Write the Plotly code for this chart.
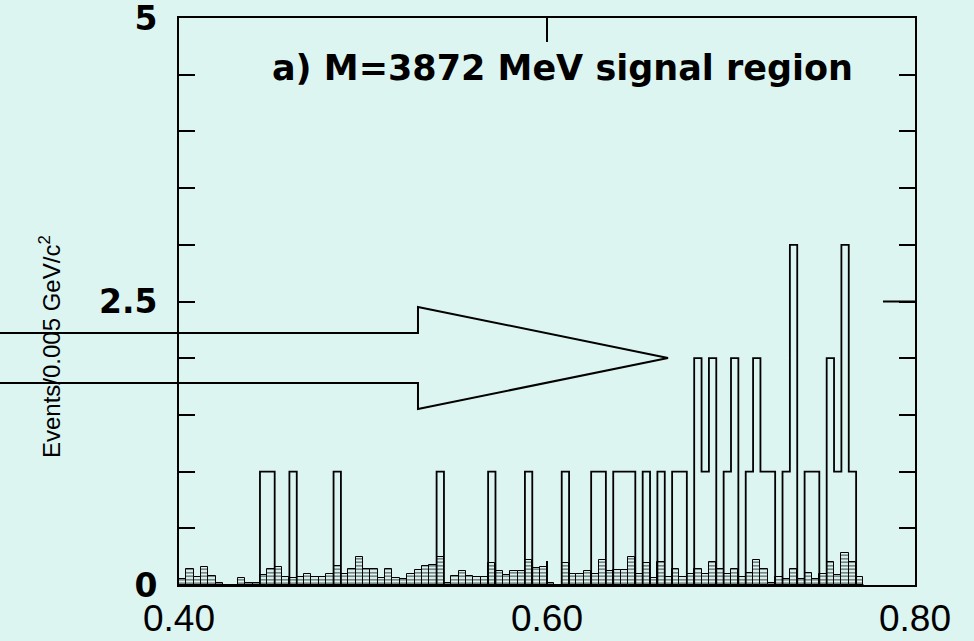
import numpy as np
import plotly.graph_objects as go

# ---- data ----
bin_start = 0.400
bin_width = 0.004

signal_counts = [
    0, 0, 0, 0, 0, 0, 0, 0, 0, 0,
    0, 1, 1, 0, 0, 1, 0, 0, 0, 0,
    0, 1, 0, 0, 0, 0, 0, 0, 0, 0,
    0, 0, 0, 0, 0, 1, 0, 0, 0, 0,
    0, 0, 1, 0, 0, 0, 0, 1, 0, 0,
    0, 0, 1, 0, 0, 0, 1, 1, 0, 1,
    1, 1, 0, 1, 0, 1, 0, 1, 1, 0,
    2, 1, 2, 0, 1, 2, 0, 1, 2, 1,
    1, 0, 1, 3, 0, 1, 1, 0, 2, 1,
    3, 1, 0,
]

background_counts = [
    0.05, 0.14, 0.07, 0.16, 0.08, 0.02, 0.00, 0.00, 0.06, 0.015,
    0.015, 0.09, 0.14, 0.16, 0.07, 0.06, 0.07, 0.10, 0.07, 0.07,
    0.10, 0.17, 0.10, 0.14, 0.25, 0.14, 0.14, 0.06, 0.14, 0.06,
    0.05, 0.10, 0.13, 0.17, 0.18, 0.25, 0.02, 0.08, 0.12, 0.08,
    0.07, 0.07, 0.19, 0.12, 0.09, 0.12, 0.12, 0.22, 0.15, 0.16,
    0.02, 0.00, 0.19, 0.10, 0.10, 0.12, 0.10, 0.22, 0.12, 0.13,
    0.13, 0.25, 0.10, 0.19, 0.06, 0.20, 0.07, 0.14, 0.07, 0.10,
    0.14, 0.10, 0.20, 0.14, 0.10, 0.14, 0.07, 0.11, 0.22, 0.14,
    0.02, 0.07, 0.05, 0.14, 0.05, 0.11, 0.05, 0.10, 0.20, 0.09,
    0.28, 0.20, 0.07,
]

x_tick_vals = [0.40, 0.60, 0.80]
x_tick_text = ["0.40", "0.60", "0.80"]
y_tick_vals = [0, 2.5, 5]
y_tick_text = ["0", "2.5", "5"]
y_minor_step = 0.5

title_text = "a) M=3872 MeV signal region"
y_title = "Events/0.005 GeV/c<sup>2</sup>"

# ---- derived ----
n = len(signal_counts)
edges = np.round(bin_start + bin_width * np.arange(n + 1), 4)
centers = edges[:-1] + bin_width / 2

BG = "#dcf5f0"

fig = go.Figure()

# hatched background histogram
fig.add_trace(go.Bar(
    x=centers, y=background_counts, width=bin_width,
    marker=dict(color=BG,
                line=dict(color="black", width=1),
                pattern=dict(shape="-", fgcolor="black", bgcolor=BG,
                             size=3.5, solidity=0.45)),
    showlegend=False, hoverinfo="skip",
))

# signal-region step histogram
step_x = list(edges[:-1]) + [edges[-1]]
step_y = list(signal_counts) + [0]
fig.add_trace(go.Scatter(
    x=step_x, y=step_y, mode="lines", line=dict(color="black", width=1.8, shape="hv"),
    showlegend=False, hoverinfo="skip",
))

# big hollow arrow (paper coordinates, extends beyond left edge)
arrow_path = ("M -0.2432,0.4444 L 0.3247,0.4444 L 0.3247,0.4903 L 0.6644,0.4004 "
              "L 0.3247,0.3104 L 0.3247,0.3563 L -0.2432,0.3563")
fig.add_shape(type="path", path=arrow_path, xref="paper", yref="paper",
              line=dict(color="black", width=2), fillcolor="rgba(0,0,0,0)", layer="above")

# long right-side tick at 2.5
fig.add_shape(type="line", xref="paper", yref="y", x0=0.9565, x1=1.0, y0=2.5, y1=2.5,
              line=dict(color="black", width=2))

fig.add_annotation(text=title_text, xref="paper", yref="paper", x=0.5217, y=0.912,
                   showarrow=False, xanchor="center", yanchor="middle",
                   font=dict(family="DejaVu Sans", size=35, color="black", weight="bold"))

fig.add_annotation(text=y_title, xref="paper", yref="paper", x=-0.175, y=0.42,
                   showarrow=False, xanchor="center", yanchor="middle", textangle=-90,
                   font=dict(family="Liberation Sans", size=24, color="black"))

fig.update_layout(
    width=974, height=641,
    margin=dict(l=179, r=59, t=18, b=56, autoexpand=False),
    paper_bgcolor=BG, plot_bgcolor=BG,
    bargap=0, barmode="overlay",
    xaxis=dict(range=[0.40, 0.80], tickvals=x_tick_vals, ticktext=x_tick_text,
               ticks="inside", ticklen=24, tickwidth=2, tickcolor="black",
               showline=True, linecolor="black", linewidth=2, mirror="ticks",
               showgrid=False, zeroline=False, ticklabelstandoff=0, automargin=False,
               ticklabeloverflow="allow",
               tickfont=dict(family="Liberation Sans", size=37, color="black")),
    yaxis=dict(range=[0, 5], tickvals=y_tick_vals, ticktext=y_tick_text,
               ticks="inside", ticklen=16, tickwidth=2, tickcolor="black",
               minor=dict(dtick=y_minor_step, tick0=0, ticks="inside", ticklen=16,
                          tickwidth=2, tickcolor="black", showgrid=False),
               showline=True, linecolor="black", linewidth=2, mirror="ticks",
               showgrid=False, zeroline=False, ticklabelstandoff=13, automargin=False,
               ticklabeloverflow="allow",
               tickfont=dict(family="DejaVu Sans", size=33, color="black", weight="bold")),
)

fig.write_html("out.html", config={"displayModeBar": False},
               post_script="document.body.style.margin='0';document.body.style.overflow='hidden';")
